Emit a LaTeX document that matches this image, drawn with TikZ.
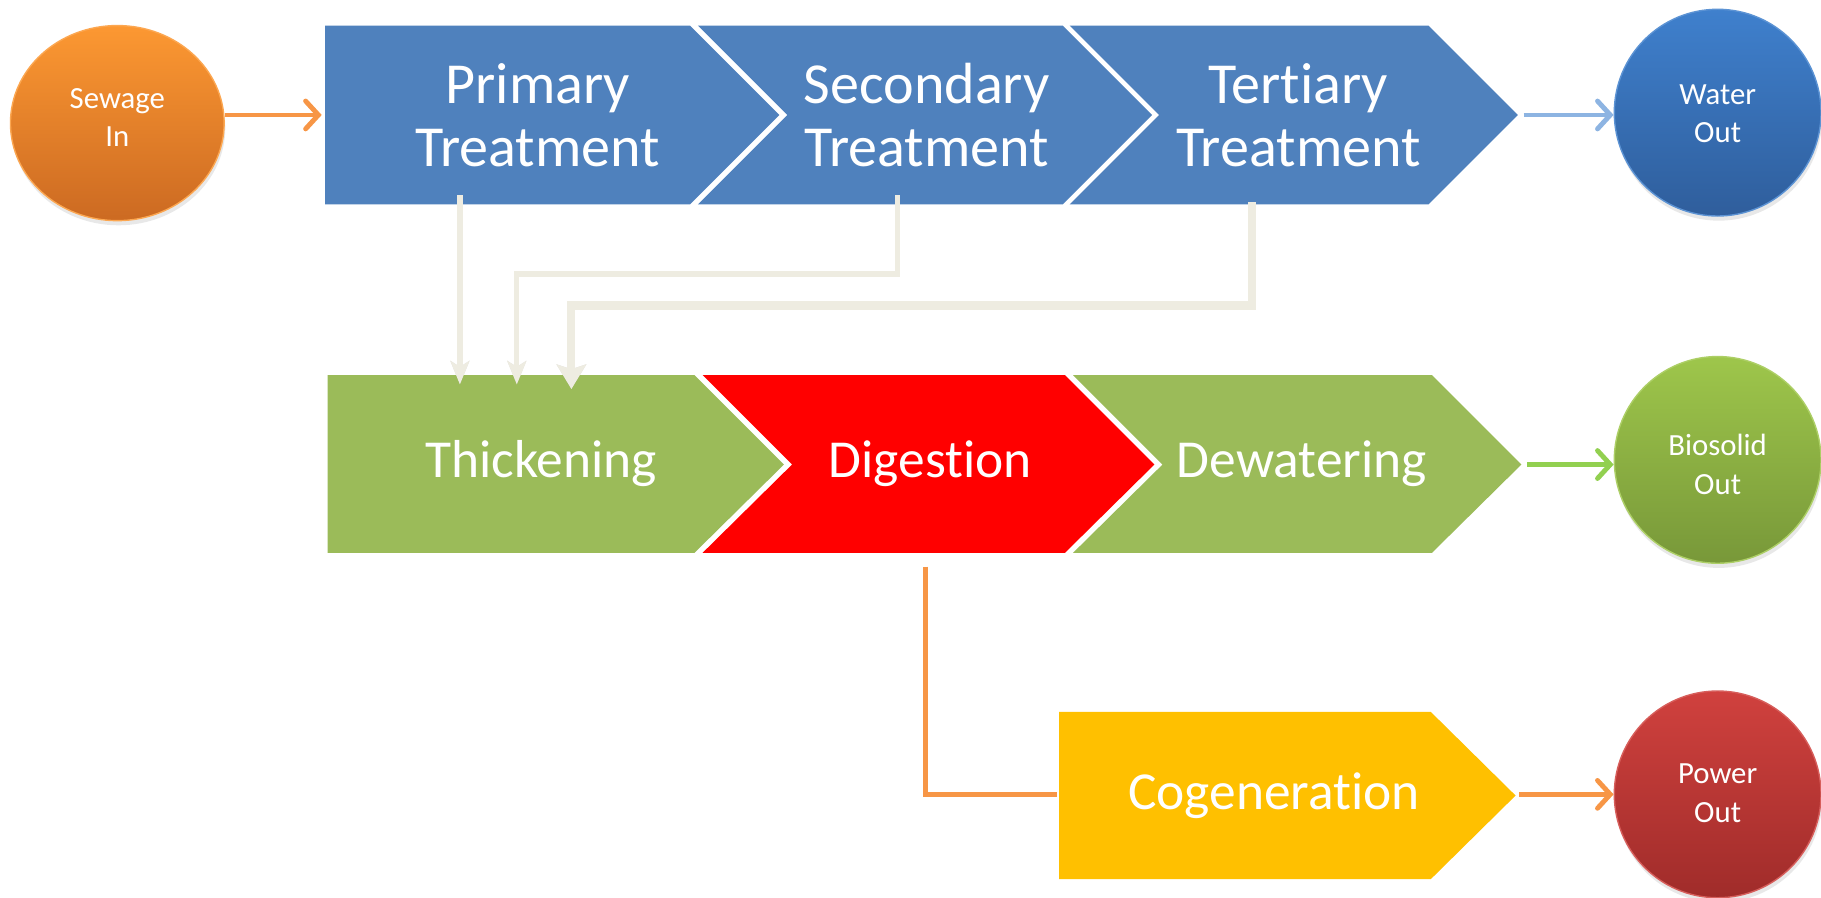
\documentclass[tikz,border=0pt]{standalone}
\usepackage{fontspec}
\setmainfont{Carlito}[Ligatures={NoCommon}]
\usetikzlibrary{shapes.geometric,arrows.meta,shadows}

\definecolor{stageblue}{HTML}{4F81BD}
\definecolor{stagegreen}{HTML}{9BBB59}
\definecolor{stagered}{HTML}{FF0000}
\definecolor{stageyellow}{HTML}{FFC000}
\definecolor{pipegray}{HTML}{EEECE1}
\definecolor{pipeshade}{HTML}{B8B6AE}
\definecolor{flowOrange}{HTML}{F79646}
\definecolor{flowBlue}{HTML}{8DB4E2}
\definecolor{flowGreen}{HTML}{92D050}
\definecolor{sewTop}{HTML}{FC9832}
\definecolor{sewBot}{HTML}{CC6A22}
\definecolor{waterTop}{HTML}{3F80CD}
\definecolor{waterBot}{HTML}{2F5E9C}
\definecolor{bioTop}{HTML}{9EC64B}
\definecolor{bioBot}{HTML}{789839}
\definecolor{powTop}{HTML}{D0413E}
\definecolor{powBot}{HTML}{A02C2A}

\begin{document}
\begin{tikzpicture}[x=1pt,y=-1pt,
  bigtxt/.style={text=white, font=\fontsize{50}{54}\selectfont, align=center, inner sep=0pt},
  midtxt/.style={bigtxt, font=\fontsize{46}{50}\selectfont},
  ball/.style 2 args={ellipse, top color=#1, bottom color=#2, draw=#1!85!white, line width=1.2pt,
    minimum width=178pt, minimum height=178pt, inner sep=0pt,
    drop shadow={opacity=0.18, shadow xshift=1pt, shadow yshift=-4pt}},
  balltxt/.style={text=white, font=\fontsize{26.5}{33}\selectfont, align=center, inner sep=0pt},
  flow/.style={draw=#1, line width=4.2pt, -{Straight Barb[length=11pt,width=24pt,line cap=round]}},
  pipe/.style={draw=pipegray, line width=#1, line join=miter},
  pipeshadow/.style={draw=pipeshade, opacity=0.45, line width=#1},
  thinhead/.style={-{Stealth[length=20pt,width=16pt,inset=5pt]}},
  widehead/.style={-{Stealth[length=21pt,width=25pt,inset=4pt]}}
]
\useasboundingbox (0,0) rectangle (1568,773);
\fill[white] (0,0) rectangle (1568,773);

% treatment stages (top row)
\fill[stageblue] (280,22) -- (594,22) -- (671,99) -- (594,176) -- (280,176) -- cycle;
\fill[stageblue] (601,22) -- (915,22) -- (992,99) -- (915,176) -- (601,176) -- (678,99) -- cycle;
\fill[stageblue] (921,22) -- (1230,22) -- (1307,99) -- (1230,176) -- (921,176) -- (998,99) -- cycle;

% sludge stages (middle row)
\fill[stagegreen] (282,323) -- (598,323) -- (675,400) -- (598,476) -- (282,476) -- cycle;
\fill[stagered] (605,323) -- (917,323) -- (994,400) -- (917,476) -- (605,476) -- (682,400) -- cycle;
\fill[stagegreen] (924,323) -- (1233,323) -- (1310,400) -- (1233,476) -- (924,476) -- (1001,400) -- cycle;

% energy recovery
\fill[stageyellow] (912,613) -- (1232,613) -- (1305,685) -- (1232,757) -- (912,757) -- cycle;

% stage labels
\node[bigtxt] (prim) at (463,99) {Primary\\Treatment};
\node[bigtxt] (sec) at (798,99) {Secondary\\Treatment};
\node[bigtxt] (ter) at (1118,99) {Tertiary\\Treatment};
\node[midtxt] (thick) at (466,399) {Thickening};
\node[midtxt] (dig) at (801,399) {Digestion};
\node[midtxt] (dew) at (1121,399) {Dewatering};
\node[midtxt] (cog) at (1097,685) {Cogeneration};

% inputs and outputs
\node[ball={sewTop}{sewBot}, minimum width=184pt, minimum height=168pt] (sew) at (101,106) {};
\node[balltxt] (sewtxt) at (101,101) {Sewage\\In};
\node[ball={waterTop}{waterBot}] (water) at (1479,97) {};
\node[balltxt] (watertxt) at (1479,98) {Water\\Out};
\node[ball={bioTop}{bioBot}] (bio) at (1479,396) {};
\node[balltxt] (biotxt) at (1479,400) {Biosolid\\Out};
\node[ball={powTop}{powBot}] (pow) at (1479,684) {};
\node[balltxt] (powtxt) at (1479,683) {Power\\Out};

% connector end points on the stage outlines
\coordinate (primW) at (277,99);
\coordinate (terTip) at (1312,99);
\coordinate (dewTip) at (1315,400);
\coordinate (cogTip) at (1308,684);
\coordinate (digS) at (797,488);
\coordinate (cogW) at (910,684);
\coordinate (p1) at (396,168);
\coordinate (t1) at (396,331);
\coordinate (p2) at (773,168);
\coordinate (t2) at (445,331);
\coordinate (p3) at (1078,174);
\coordinate (t3) at (492,335);

% sludge pipes: soft shadow first, then the pipe
\begin{scope}[shift={(2,3)}]
  \draw[pipeshadow=4.5pt, thinhead] (p1) -- (t1);
  \draw[pipeshadow=4.5pt, thinhead] (p2) -- ++(0,68) -| (t2);
  \draw[pipeshadow=7pt, widehead] (p3) -- ++(0,89) -| (t3);
\end{scope}
\draw[pipe=4.5pt, thinhead] (p1) -- (t1);
\draw[pipe=4.5pt, thinhead] (p2) -- ++(0,68) -| (t2);
\draw[pipe=7pt, widehead] (p3) -- ++(0,89) -| (t3);

% main flows
\draw[flow=flowOrange] (sew.east |- primW) -- (primW);
\draw[flow=flowBlue] (terTip) -- (water.west |- terTip);
\draw[flow=flowGreen] (dewTip) -- (bio.west |- dewTip);
\draw[flow=flowOrange] (cogTip) -- (pow.west |- cogTip);
\draw[draw=flowOrange, line width=4.2pt] (digS) |- (cogW);
\end{tikzpicture}
\end{document}
